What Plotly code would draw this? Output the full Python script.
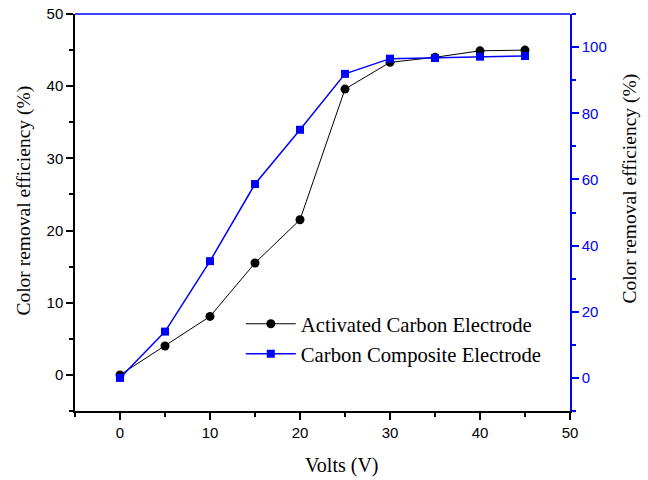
import plotly.graph_objects as go

# Applied voltage (V)
volts = [0, 5, 10, 15, 20, 25, 30, 35, 40, 45]
# Colour removal efficiency (%) for each electrode type
activated_carbon = [0.0, 4.0, 8.1, 15.5, 21.5, 39.6, 43.3, 44.0, 44.9, 45.0]
carbon_composite = [0.0, 14.0, 35.3, 58.6, 75.0, 91.9, 96.5, 96.7, 97.1, 97.3]

serif = "Liberation Serif, Times New Roman, serif"
sans = "Liberation Sans, Arial, sans-serif"
blue = "#0000ff"

fig = go.Figure()
fig.add_trace(go.Scatter(
    x=volts, y=activated_carbon, name="Activated Carbon Electrode",
    mode="lines+markers",
    line=dict(color="black", width=1),
    marker=dict(symbol="circle", size=9, color="black"),
    yaxis="y",
))
fig.add_trace(go.Scatter(
    x=volts, y=carbon_composite, name="Carbon Composite Electrode",
    mode="lines+markers",
    line=dict(color=blue, width=1.5),
    marker=dict(symbol="square", size=8, color=blue),
    yaxis="y2",
))

tick_common = dict(ticks="outside", ticklen=7, tickwidth=1.5,
                   showgrid=False, zeroline=False, showline=True, linewidth=1.5,
                   automargin=False)

fig.update_layout(
    width=648, height=480,
    margin=dict(l=75, r=78, t=14, b=69),
    paper_bgcolor="white", plot_bgcolor="white",
    showlegend=True,
    legend=dict(
        x=0.335, y=0.27, xanchor="left", yanchor="top",
        bgcolor="rgba(0,0,0,0)",
        font=dict(family=serif, size=20.7, color="black"),
        tracegroupgap=0, itemwidth=50,
    ),
    xaxis=dict(
        range=[-5, 50], tickmode="array", tickvals=[0, 10, 20, 30, 40, 50],
        tickcolor="black", linecolor="black",
        minor=dict(tickvals=[-5, 5, 15, 25, 35, 45], ticks="outside",
                   ticklen=4, tickwidth=1.5, tickcolor="black"),
        tickfont=dict(family=sans, size=15, color="black"),
        **tick_common,
    ),
    yaxis=dict(
        range=[-5, 50], tickmode="array", tickvals=[0, 10, 20, 30, 40, 50],
        tickcolor="black", linecolor="black",
        minor=dict(tickvals=[-5, 5, 15, 25, 35, 45], ticks="outside",
                   ticklen=4, tickwidth=1.5, tickcolor="black"),
        tickfont=dict(family=sans, size=15, color="black"),
        **tick_common,
    ),
    yaxis2=dict(
        overlaying="y", side="right",
        range=[-10, 110], tickmode="array", tickvals=[0, 20, 40, 60, 80, 100],
        tickcolor=blue, linecolor=blue,
        minor=dict(tickvals=[-10, 10, 30, 50, 70, 90, 110], ticks="outside",
                   ticklen=4, tickwidth=1.5, tickcolor=blue),
        tickfont=dict(family=sans, size=15, color=blue),
        **tick_common,
    ),
    shapes=[dict(type="line", xref="paper", yref="paper", x0=0, x1=1, y0=1, y1=1,
                 line=dict(color=blue, width=1.5))],
    annotations=[
        dict(text="Volts (V)", xref="paper", yref="paper", x=0.54, y=-0.138,
             xanchor="center", yanchor="middle", showarrow=False,
             font=dict(family=serif, size=20, color="black")),
        dict(text="Color removal efficiency (%)", xref="paper", yref="paper",
             x=-0.103, y=0.53, xanchor="center", yanchor="middle", textangle=-90,
             showarrow=False, font=dict(family=serif, size=19.5, color="black")),
        dict(text="Color removal efficiency (%)", xref="paper", yref="paper",
             x=1.121, y=0.56, xanchor="center", yanchor="middle", textangle=-90,
             showarrow=False, font=dict(family=serif, size=19.5, color="black")),
    ],
)

fig.write_html("out.html")
